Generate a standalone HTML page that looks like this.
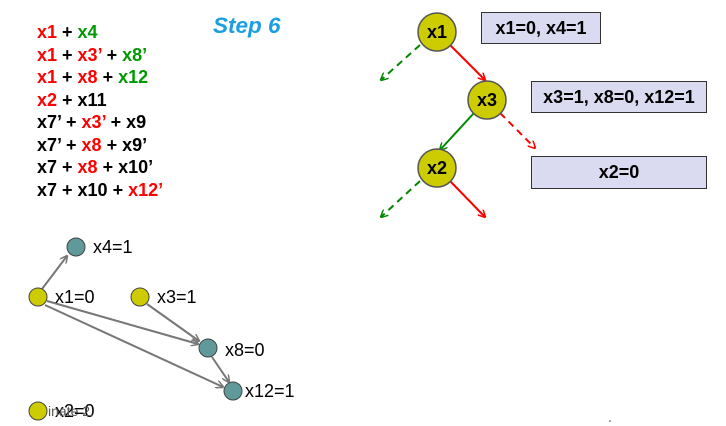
<!DOCTYPE html>
<html><head><style>
body{margin:0;width:726px;height:426px;background:#fff;overflow:hidden;font-family:"Liberation Sans",Arial,sans-serif}
.l{position:absolute;left:37px;font-weight:bold;font-size:18px;line-height:22.5px;top:21px;color:#000}
.r{color:#f00}.g{color:#090}
</style></head><body>
<div class="l">
<div><span class="r">x1</span> + <span class="g">x4</span></div>
<div><span class="r">x1</span> + <span class="r">x3’</span> + <span class="g">x8’</span></div>
<div><span class="r">x1</span> + <span class="r">x8</span> + <span class="g">x12</span></div>
<div><span class="r">x2</span> + x11</div>
<div>x7’ + <span class="r">x3’</span> + x9</div>
<div>x7’ + <span class="r">x8</span> + x9’</div>
<div>x7 + <span class="r">x8</span> + x10’</div>
<div>x7 + x10 + <span class="r">x12’</span></div>
</div>
<svg width="726" height="426" style="position:absolute;left:0;top:0" font-family="Liberation Sans,Arial,sans-serif">
<defs>
<marker id="ar" markerWidth="8" markerHeight="8" refX="7" refY="4" orient="auto" markerUnits="userSpaceOnUse"><path d="M0,0 L8,4 L0,8" fill="none" stroke="#f00" stroke-width="1.5"/></marker>
<marker id="ag" markerWidth="8" markerHeight="8" refX="7" refY="4" orient="auto" markerUnits="userSpaceOnUse"><path d="M0,0 L8,4 L0,8" fill="none" stroke="#080" stroke-width="1.5"/></marker>
<marker id="ay" markerWidth="8" markerHeight="8" refX="7" refY="4" orient="auto" markerUnits="userSpaceOnUse"><path d="M0,0 L8,4 L0,8" fill="none" stroke="#777" stroke-width="1.5"/></marker>
</defs>
<text x="213" y="33" font-size="22.5" font-weight="bold" font-style="italic" fill="#1a9fe0">Step 6</text>
<g stroke-width="2" fill="none">
<line x1="420" y1="45" x2="381" y2="80" stroke="#080" stroke-dasharray="7,5" marker-end="url(#ag)"/>
<line x1="450" y1="45" x2="485" y2="80" stroke="#f00" marker-end="url(#ar)"/>
<line x1="474" y1="113" x2="440" y2="150" stroke="#080" marker-end="url(#ag)"/>
<line x1="500" y1="113" x2="535" y2="148" stroke="#f00" stroke-dasharray="7,5" marker-end="url(#ar)"/>
<line x1="420" y1="181" x2="381" y2="217" stroke="#080" stroke-dasharray="7,5" marker-end="url(#ag)"/>
<line x1="450" y1="181" x2="485" y2="217" stroke="#f00" marker-end="url(#ar)"/>
</g>
<g fill="#cccc00" stroke="#555" stroke-width="1.5">
<circle cx="437" cy="32" r="19"/><circle cx="487" cy="100" r="19"/><circle cx="437" cy="168" r="19"/>
</g>
<g font-size="18" font-weight="bold" text-anchor="middle">
<text x="437" y="38">x1</text><text x="487" y="106">x3</text><text x="437" y="174">x2</text>
</g>
<g fill="#dadaf0" stroke="#333" stroke-width="1">
<rect x="481.5" y="12.5" width="119" height="31"/><rect x="531.5" y="81.5" width="175" height="31"/><rect x="531.5" y="156.5" width="175" height="32"/>
</g>
<g font-size="18" text-anchor="middle" font-weight="bold">
<text x="541" y="34">x1=0, x4=1</text><text x="619" y="103">x3=1, x8=0, x12=1</text><text x="619" y="178">x2=0</text>
</g>
<g stroke="#777" stroke-width="2" fill="none">
<line x1="42" y1="289" x2="67" y2="256" marker-end="url(#ay)"/>
<line x1="47" y1="301" x2="198" y2="344" marker-end="url(#ay)"/>
<line x1="45" y1="305" x2="223" y2="387" marker-end="url(#ay)"/>
<line x1="147" y1="304" x2="199" y2="341" marker-end="url(#ay)"/>
<line x1="212" y1="357" x2="229" y2="382" marker-end="url(#ay)"/>
</g>
<g stroke="#444" stroke-width="1">
<circle cx="76" cy="247" r="9" fill="#5f9999"/>
<circle cx="38" cy="297" r="9" fill="#cccc00"/>
<circle cx="140" cy="297" r="9" fill="#cccc00"/>
<circle cx="208" cy="348" r="9" fill="#5f9999"/>
<circle cx="233" cy="391" r="9" fill="#5f9999"/>
<circle cx="38" cy="411" r="9" fill="#cccc00"/>
</g>
<g font-size="18">
<text x="93" y="253">x4=1</text><text x="55" y="303">x1=0</text><text x="157" y="303">x3=1</text>
<text x="225" y="356">x8=0</text><text x="245" y="397">x12=1</text>
<text x="55" y="417">x2=0</text><text x="48" y="416" font-size="14" fill="#555">inate 2.</text>
</g>
<circle cx="610" cy="421" r="0.8" fill="#333"/>
</svg>
</body></html>
